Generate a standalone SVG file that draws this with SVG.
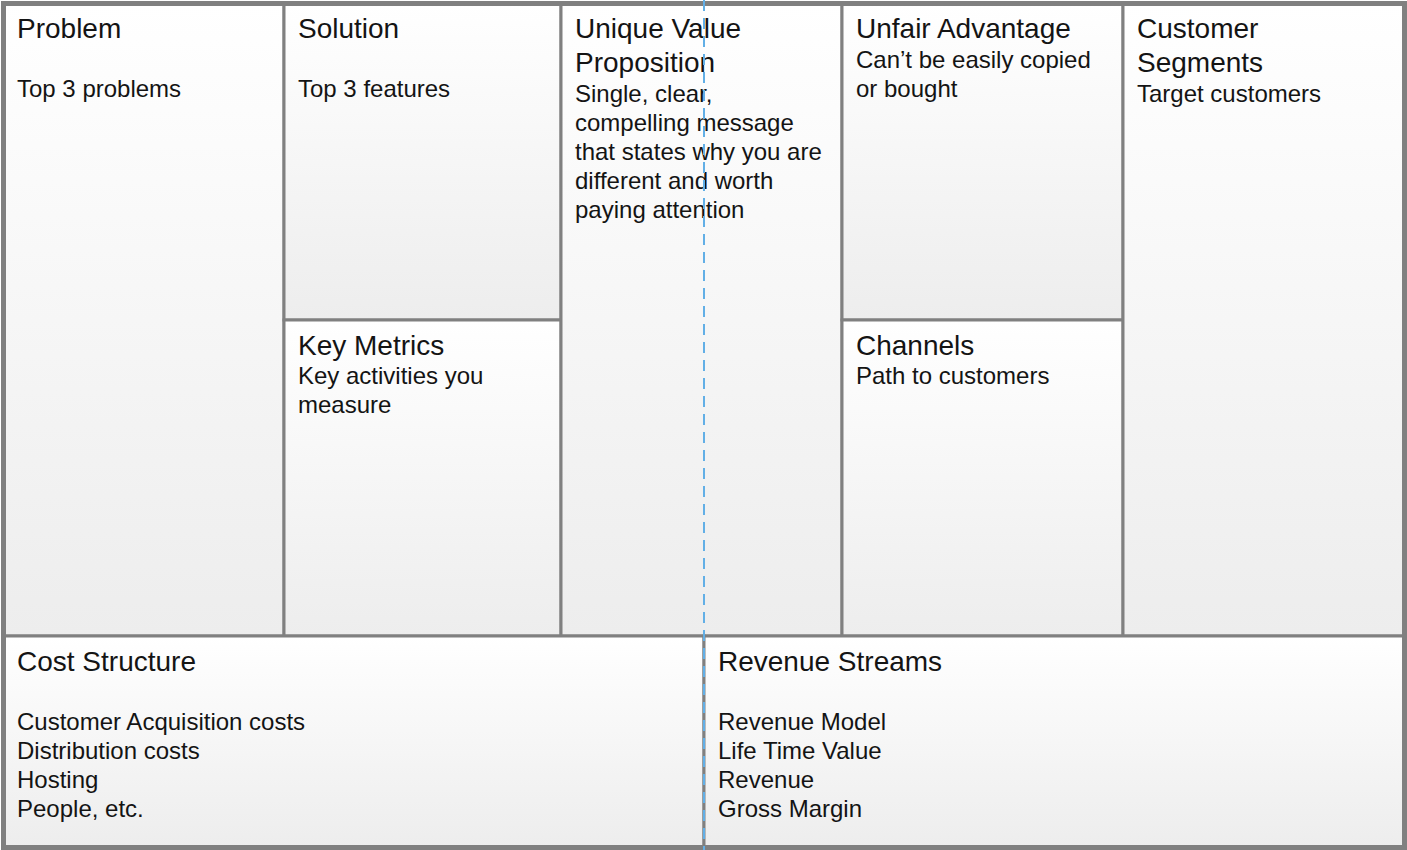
<svg xmlns="http://www.w3.org/2000/svg" width="1407" height="850" viewBox="0 0 1407 850">
  <defs>
    <linearGradient id="cellGrad" x1="0" y1="0" x2="0" y2="1">
      <stop offset="0" stop-color="#ffffff"/>
      <stop offset="1" stop-color="#ededed"/>
    </linearGradient>
    <style>
      .cell { fill: url(#cellGrad); stroke: #808080; stroke-width: 3; }
      .title { font-family: "Liberation Sans", Arial, sans-serif; font-size: 28px; fill: #141414; }
      .body { font-family: "Liberation Sans", Arial, sans-serif; font-size: 24px; fill: #141414; }
      .frame { fill: none; stroke: #808080; stroke-width: 5; }
      .guide { stroke: #62afe6; stroke-width: 2; stroke-dasharray: 11 7; fill: none; }
    </style>
  </defs>
  <rect x="0" y="0" width="1407" height="850" fill="#ffffff"/>

  <g id="problem">
    <rect class="cell" x="4" y="4" width="280" height="632"/>
    <text class="title" x="17" y="38">Problem</text>
    <text class="body" x="17" y="97">Top 3 problems</text>
  </g>

  <g id="solution">
    <rect class="cell" x="284" y="4" width="277" height="316"/>
    <text class="title" x="298" y="38">Solution</text>
    <text class="body" x="298" y="97">Top 3 features</text>
  </g>

  <g id="key-metrics">
    <rect class="cell" x="284" y="320" width="277" height="316"/>
    <text class="title" x="298" y="355">Key Metrics</text>
    <text class="body" x="298" y="384">Key activities you</text>
    <text class="body" x="298" y="413">measure</text>
  </g>

  <g id="unique-value-proposition">
    <rect class="cell" x="561" y="4" width="281" height="632"/>
    <text class="title" x="575" y="38">Unique Value</text>
    <text class="title" x="575" y="72">Proposition</text>
    <text class="body" x="575" y="102">Single, clear,</text>
    <text class="body" x="575" y="131">compelling message</text>
    <text class="body" x="575" y="160">that states why you are</text>
    <text class="body" x="575" y="189">different and worth</text>
    <text class="body" x="575" y="218">paying attention</text>
  </g>

  <g id="unfair-advantage">
    <rect class="cell" x="842" y="4" width="281" height="316"/>
    <text class="title" x="856" y="38">Unfair Advantage</text>
    <text class="body" x="856" y="68">Can’t be easily copied</text>
    <text class="body" x="856" y="97">or bought</text>
  </g>

  <g id="channels">
    <rect class="cell" x="842" y="320" width="281" height="316"/>
    <text class="title" x="856" y="355">Channels</text>
    <text class="body" x="856" y="384">Path to customers</text>
  </g>

  <g id="customer-segments">
    <rect class="cell" x="1123" y="4" width="281" height="632"/>
    <text class="title" x="1137" y="38">Customer</text>
    <text class="title" x="1137" y="72">Segments</text>
    <text class="body" x="1137" y="102">Target customers</text>
  </g>

  <g id="cost-structure">
    <rect class="cell" x="4" y="636" width="700" height="211"/>
    <text class="title" x="17" y="671">Cost Structure</text>
    <text class="body" x="17" y="730">Customer Acquisition costs</text>
    <text class="body" x="17" y="759">Distribution costs</text>
    <text class="body" x="17" y="788">Hosting</text>
    <text class="body" x="17" y="817">People, etc.</text>
  </g>

  <g id="revenue-streams">
    <rect class="cell" x="704" y="636" width="700" height="211"/>
    <text class="title" x="718" y="671">Revenue Streams</text>
    <text class="body" x="718" y="730">Revenue Model</text>
    <text class="body" x="718" y="759">Life Time Value</text>
    <text class="body" x="718" y="788">Revenue</text>
    <text class="body" x="718" y="817">Gross Margin</text>
  </g>

  <g id="frame">
    <rect class="frame" x="3.5" y="3.5" width="1401" height="844"/>
  </g>

  <g id="connectors">
    <line class="guide" x1="704" y1="0" x2="704" y2="850"/>
  </g>
</svg>
